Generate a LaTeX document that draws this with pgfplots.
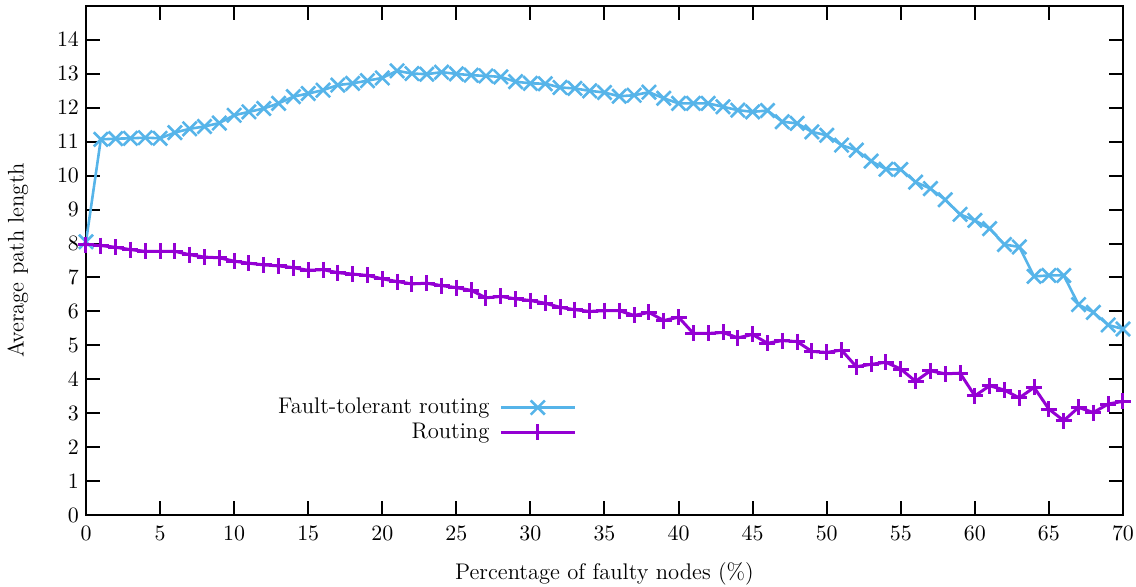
\documentclass[border=0pt]{standalone}
\usepackage{pgfplots}
\pgfplotsset{compat=1.18}
\definecolor{ftblue}{HTML}{56B4E9}
\definecolor{rpurple}{HTML}{9400D3}
\newcommand{\fs}{\fontsize{11.3pt}{13.5pt}\selectfont}
\begin{document}
\begin{tikzpicture}
\useasboundingbox (-43pt,-36pt) rectangle (525pt,257.5pt);
\begin{axis}[
 scale only axis, width=518.5pt, height=254.5pt,
 xmin=0, xmax=70, ymin=0, ymax=15,
 xtick={0,5,...,70}, ytick={0,1,...,14},
 tick align=inside, major tick length=7pt,
 tick style={black, line width=1pt},
 axis line style={line width=1.2pt},
 tick label style={font=\fs},
 xticklabel style={yshift=-2pt},
 xlabel={Percentage of faulty nodes (\%)},
 ylabel={Average path length},
 every axis x label/.style={at={([yshift=-29.5pt]axis description cs:0.5,0)}, anchor=center, font=\fs},
 every axis y label/.style={at={([xshift=-34pt]axis description cs:0,0.5)}, anchor=center, rotate=90, font=\fs},
 legend cell align=right,
 legend plot pos=right,
 legend style={draw=none, fill=none, at={(0.479,0.246)}, anchor=north east, row sep=-1pt, column sep=3pt, font=\fs},
 legend image code/.code={\draw[mark repeat=2,mark phase=2] plot coordinates {(0cm,0cm) (0.65cm,0cm) (1.3cm,0cm)};},
]
\addplot[color=ftblue, line width=1.3pt, mark=x, mark size=5pt] coordinates {
(0,8.05) (1,11.07) (2,11.09) (3,11.1) (4,11.12) (5,11.1) (6,11.27) (7,11.38) (8,11.45) (9,11.55)
(10,11.78) (11,11.88) (12,11.98) (13,12.13) (14,12.33) (15,12.42) (16,12.52) (17,12.67) (18,12.72) (19,12.8)
(20,12.88) (21,13.09) (22,13.01) (23,12.99) (24,13.05) (25,13.0) (26,12.96) (27,12.94) (28,12.91) (29,12.77)
(30,12.72) (31,12.71) (32,12.6) (33,12.57) (34,12.5) (35,12.45) (36,12.34) (37,12.37) (38,12.46) (39,12.28)
(40,12.13) (41,12.13) (42,12.13) (43,12.03) (44,11.93) (45,11.88) (46,11.92) (47,11.59) (48,11.54) (49,11.29)
(50,11.19) (51,10.9) (52,10.75) (53,10.43) (54,10.19) (55,10.18) (56,9.81) (57,9.62) (58,9.29) (59,8.86)
(60,8.68) (61,8.44) (62,7.97) (63,7.9) (64,7.03) (65,7.06) (66,7.06) (67,6.2) (68,5.97) (69,5.6) (70,5.48)
};
\addlegendentry{Fault-tolerant routing}
\addplot[color=rpurple, line width=1.5pt, mark=+, mark size=4pt] coordinates {
(0,7.97) (1,7.94) (2,7.89) (3,7.82) (4,7.77) (5,7.77) (6,7.77) (7,7.67) (8,7.6) (9,7.58)
(10,7.48) (11,7.42) (12,7.37) (13,7.34) (14,7.29) (15,7.21) (16,7.23) (17,7.14) (18,7.1) (19,7.06)
(20,6.96) (21,6.88) (22,6.81) (23,6.83) (24,6.76) (25,6.7) (26,6.62) (27,6.4) (28,6.44) (29,6.37)
(30,6.32) (31,6.24) (32,6.12) (33,6.05) (34,6.0) (35,6.02) (36,6.02) (37,5.88) (38,5.97) (39,5.73)
(40,5.83) (41,5.35) (42,5.35) (43,5.38) (44,5.22) (45,5.32) (46,5.06) (47,5.14) (48,5.11) (49,4.82)
(50,4.79) (51,4.86) (52,4.37) (53,4.44) (54,4.5) (55,4.3) (56,3.94) (57,4.25) (58,4.16) (59,4.18)
(60,3.51) (61,3.81) (62,3.68) (63,3.45) (64,3.76) (65,3.12) (66,2.78) (67,3.17) (68,3.02) (69,3.27) (70,3.35)
};
\addlegendentry{Routing}
\end{axis}
\end{tikzpicture}
\end{document}
